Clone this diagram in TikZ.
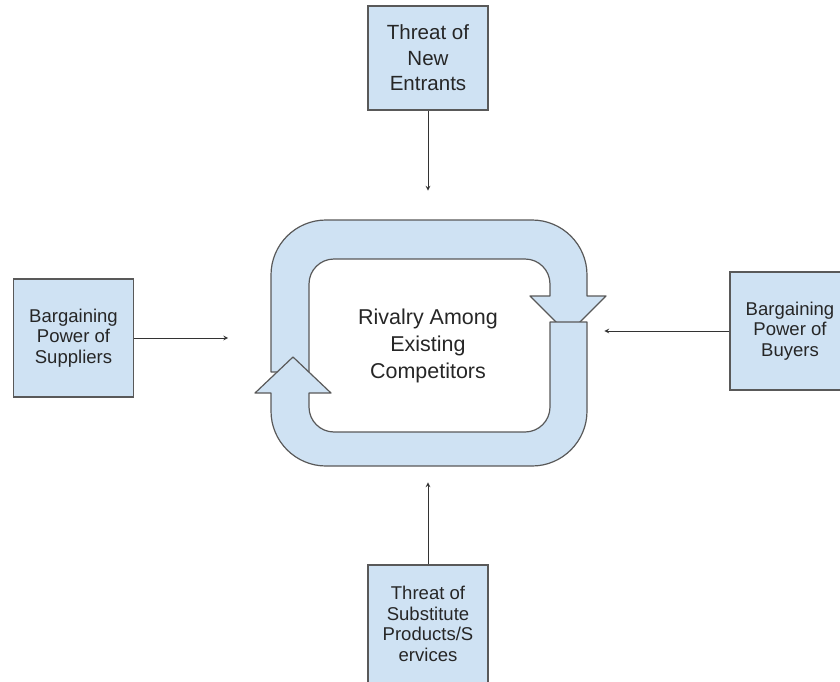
\documentclass[tikz,border=0pt]{standalone}
\usepackage{fontspec}
\setmainfont{Liberation Sans}
\usetikzlibrary{positioning}
\definecolor{boxfill}{HTML}{CFE2F3}
\definecolor{boxline}{HTML}{595959}
\tikzstyle{force} = [draw=boxline, fill=boxfill, line width=0.9pt, rectangle, minimum width=90pt, minimum height=88.5pt, inner sep=0pt, align=center, text=black!85, font=\fontsize{13.9}{15.4}\selectfont]
\tikzstyle{band} = [draw=boxline, fill=boxfill, line width=0.9pt, line join=round]
\tikzstyle{output} = [coordinate]

\begin{document}
\begin{tikzpicture}[x=0.75pt, y=-0.75pt, >=stealth]
        \useasboundingbox (0,0) rectangle (840,682);
        \clip (0,0) rectangle (840,682);

        % rivalry loop, upper half first
        \draw [band] (271,372) -- (271,275) arc[start angle=180, end angle=270, radius=55]
            -- (532,220) arc[start angle=270, end angle=360, radius=55]
            -- (587,296) -- (606,296) -- (568,334) -- (530,296) -- (550,296)
            -- (550,284) arc[start angle=0, end angle=-90, radius=25]
            -- (334,259) arc[start angle=270, end angle=180, radius=25]
            -- (309,372) -- cycle;
        \draw [band] (550,322) -- (587,322) -- (587,411) arc[start angle=0, end angle=90, radius=55]
            -- (326,466) arc[start angle=90, end angle=180, radius=55]
            -- (271,393) -- (255,393) -- (293,357) -- (331,393) -- (309,393)
            -- (309,407) arc[start angle=180, end angle=90, radius=25]
            -- (525,432) arc[start angle=90, end angle=0, radius=25]
            -- cycle;

        \node [align=center, text=black!85, font=\fontsize{16.1}{20.25}\selectfont] (rivalry) at (428,346) {Rivalry Among\\Existing\\Competitors};

        \node [force, minimum height=78pt, font=\fontsize{15.4}{19.1}\selectfont] (entrants) at (428,58) {Threat of\\New\\Entrants};
        \node [force] (suppliers) at (73.5,338) {Bargaining\\Power of\\Suppliers};
        \node [force] (buyers) at (790,331) {Bargaining\\Power of\\Buyers};
        \node [force] (substitutes) at (428,624) {Threat of\\Substitute\\Products/S\\ervices};

        \node [output, below=60pt of entrants] (entrants-end) {};
        \node [output, right=70.5pt of suppliers] (suppliers-end) {};
        \node [output, left=93.75pt of buyers] (buyers-end) {};
        \node [output, above=61.5pt of substitutes] (substitutes-end) {};

        \draw [->, black!80, line width=0.6pt] (entrants) -- (entrants-end);
        \draw [->, black!80, line width=0.6pt] (suppliers) -- (suppliers-end);
        \draw [->, black!80, line width=0.6pt] (buyers) -- (buyers-end);
        \draw [->, black!80, line width=0.6pt] (substitutes) -- (substitutes-end);
    \end{tikzpicture}
\end{document}
